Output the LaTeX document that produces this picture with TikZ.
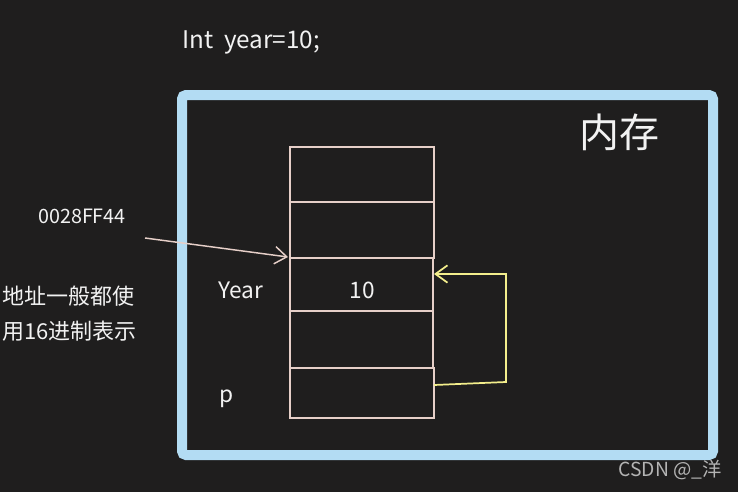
\documentclass[tikz,border=0pt]{standalone}
\usepackage{fontspec}
\setmainfont{Noto Sans CJK SC}
\usetikzlibrary{arrows.meta}
\definecolor{bg}{HTML}{1F1E1E}
\definecolor{frameblue}{HTML}{B3DCF3}
\definecolor{cellc}{HTML}{E6CFC8}
\definecolor{yel}{HTML}{F3EE8C}
\definecolor{txt}{HTML}{F2F2F2}
\definecolor{mark}{HTML}{B4B4B4}
\tikzset{
  cell/.style={draw=cellc, line width=1.3pt},
  lbl/.style={text=txt, inner sep=0pt, anchor=west},
  ptr/.style={draw=cellc, line width=1.1pt, -{Straight Barb[length=9pt,width=13pt]}},
  loopc/.style={draw=yel, line width=1.3pt, -{Straight Barb[length=9pt,width=13pt]}},
}
\begin{document}
\begin{tikzpicture}[x=0.75pt,y=-0.75pt]
\fill[bg] (0,0) rectangle (738,492);
\useasboundingbox (0,0) rectangle (738,492);
% memory frame
\draw[frameblue, line width=7.5pt, rounded corners=3pt] (182,95) rectangle (713,455);
% cells
\draw[cell] (290,147) rectangle (434,202);
\draw[cell] (290,202) rectangle (434,258);
\draw[cell] (290,258) rectangle (433,311);
\draw[cell] (290,311) rectangle (433,368);
\draw[cell] (290,368) rectangle (434,418);
\coordinate (cellTopLeft) at (288,257);
\coordinate (valR) at (434,274);
\coordinate (pR) at (434,385);
% texts
\node[lbl, font=\fontsize{18.2}{20}\selectfont] (code) at (182,42) {Int\ \ year=10;};
\node[lbl, font=\fontsize{30}{32}\selectfont] (mem) at (579,132) {内存};
\node[lbl, font=\fontsize{14.8}{16}\selectfont] (addr) at (38,216) {0028FF44};
\coordinate (addrEnd) at (145,238);
\node[lbl, font=\fontsize{16.5}{18}\selectfont] (note1) at (2,296) {地址一般都使};
\node[lbl, font=\fontsize{16.5}{18}\selectfont] (note2) at (2,331) {用16进制表示};
\node[lbl, font=\fontsize{17}{19}\selectfont] (year) at (218,290) {Year};
\node[text=txt, inner sep=0pt, font=\fontsize{17}{19}\selectfont] (ten) at (362,290) {10};
\node[lbl, font=\fontsize{17}{19}\selectfont] (p) at (219,399) {p};
\node[anchor=east, inner sep=0pt, text=mark, font=\fontsize{14.5}{16}\selectfont] (wm) at (722,470) {CSDN @\_洋};
% connectors
\draw[ptr] (addrEnd) -- (cellTopLeft);
\draw[loopc] (pR) -- (506,382) -- (506,274) -- (valR);
\end{tikzpicture}
\end{document}
